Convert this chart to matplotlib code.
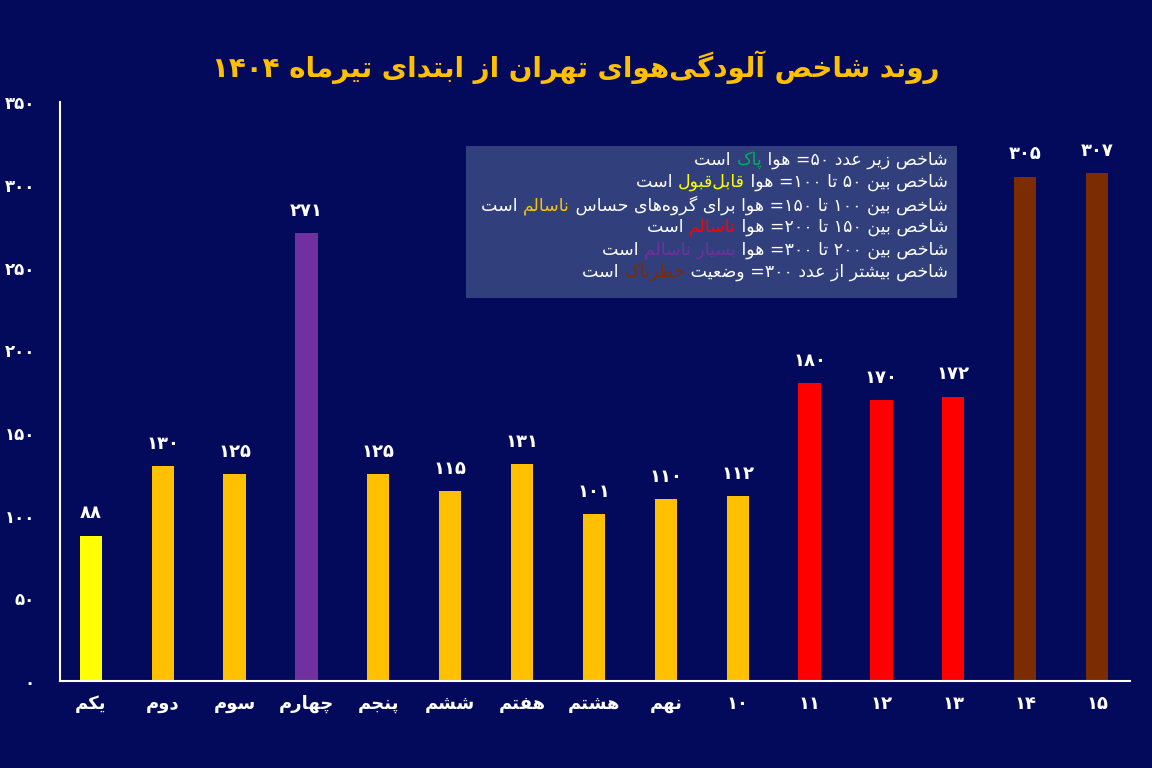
import re
import matplotlib
matplotlib.use("Agg")
import matplotlib.pyplot as plt
from matplotlib.text import Annotation

categories = ["یکم", "دوم", "سوم", "چهارم", "پنجم", "ششم", "هفتم", "هشتم", "نهم",
              "۱۰", "۱۱", "۱۲", "۱۳", "۱۴", "۱۵"]
values = [88, 130, 125, 271, 125, 115, 131, 101, 110, 112, 180, 170, 172, 305, 307]
value_labels = ["۸۸", "۱۳۰", "۱۲۵", "۲۷۱", "۱۲۵", "۱۱۵", "۱۳۱", "۱۰۱", "۱۱۰", "۱۱۲",
                "۱۸۰", "۱۷۰", "۱۷۲", "۳۰۵", "۳۰۷"]
bar_colors = ["#FFFF00", "#FFC000", "#FFC000", "#7030A0", "#FFC000", "#FFC000", "#FFC000",
              "#FFC000", "#FFC000", "#FFC000", "#FF0000", "#FF0000", "#FF0000",
              "#7B2C00", "#7B2C00"]
yticks = [0, 50, 100, 150, 200, 250, 300, 350]
ytick_labels = ["۰", "۵۰", "۱۰۰", "۱۵۰", "۲۰۰", "۲۵۰", "۳۰۰", "۳۵۰"]
title = "روند شاخص آلودگی‌هوای تهران از ابتدای تیرماه ۱۴۰۴"
legend_lines = [
    [("شاخص زیر عدد ۵۰= هوا ", "white"), ("پاک", "#00B050"), (" است", "white")],
    [("شاخص بین ۵۰ تا ۱۰۰= هوا ", "white"), ("قابل‌قبول", "#FFFF00"), (" است", "white")],
    [("شاخص بین ۱۰۰ تا ۱۵۰= هوا برای گروه‌های حساس ", "white"), ("ناسالم", "#FFC000"), (" است", "white")],
    [("شاخص بین ۱۵۰ تا ۲۰۰= هوا ", "white"), ("ناسالم", "#FF0000"), (" است", "white")],
    [("شاخص بین ۲۰۰ تا ۳۰۰= هوا ", "white"), ("بسیار ناسالم", "#7030A0"), (" است", "white")],
    [("شاخص بیشتر از عدد ۳۰۰= وضعیت ", "white"), ("خطرناک", "#7B2C00"), (" است", "white")],
]

F = {
 'ا': (0xFE8D, 0xFE8E, None, None), 'آ': (0xFE81, 0xFE82, None, None),
 'ب': (0xFE8F, 0xFE90, 0xFE91, 0xFE92), 'پ': (0xFB56, 0xFB57, 0xFB58, 0xFB59),
 'ت': (0xFE95, 0xFE96, 0xFE97, 0xFE98), 'ث': (0xFE99, 0xFE9A, 0xFE9B, 0xFE9C),
 'ج': (0xFE9D, 0xFE9E, 0xFE9F, 0xFEA0), 'چ': (0xFB7A, 0xFB7B, 0xFB7C, 0xFB7D),
 'ح': (0xFEA1, 0xFEA2, 0xFEA3, 0xFEA4), 'خ': (0xFEA5, 0xFEA6, 0xFEA7, 0xFEA8),
 'د': (0xFEA9, 0xFEAA, None, None), 'ذ': (0xFEAB, 0xFEAC, None, None),
 'ر': (0xFEAD, 0xFEAE, None, None), 'ز': (0xFEAF, 0xFEB0, None, None),
 'ژ': (0xFB8A, 0xFB8B, None, None),
 'س': (0xFEB1, 0xFEB2, 0xFEB3, 0xFEB4), 'ش': (0xFEB5, 0xFEB6, 0xFEB7, 0xFEB8),
 'ص': (0xFEB9, 0xFEBA, 0xFEBB, 0xFEBC), 'ض': (0xFEBD, 0xFEBE, 0xFEBF, 0xFEC0),
 'ط': (0xFEC1, 0xFEC2, 0xFEC3, 0xFEC4), 'ظ': (0xFEC5, 0xFEC6, 0xFEC7, 0xFEC8),
 'ع': (0xFEC9, 0xFECA, 0xFECB, 0xFECC), 'غ': (0xFECD, 0xFECE, 0xFECF, 0xFED0),
 'ف': (0xFED1, 0xFED2, 0xFED3, 0xFED4), 'ق': (0xFED5, 0xFED6, 0xFED7, 0xFED8),
 'ک': (0xFB8E, 0xFB8F, 0xFB90, 0xFB91), 'گ': (0xFB92, 0xFB93, 0xFB94, 0xFB95),
 'ل': (0xFEDD, 0xFEDE, 0xFEDF, 0xFEE0), 'م': (0xFEE1, 0xFEE2, 0xFEE3, 0xFEE4),
 'ن': (0xFEE5, 0xFEE6, 0xFEE7, 0xFEE8), 'ه': (0xFEE9, 0xFEEA, 0xFEEB, 0xFEEC),
 'و': (0xFEED, 0xFEEE, None, None), 'ی': (0xFBFC, 0xFBFD, 0xFBFE, 0xFBFF),
}


def shape(s):
    out = []
    n = len(s)
    for i, c in enumerate(s):
        if c == '\u200c':
            continue
        if c not in F:
            out.append(c)
            continue
        p = s[i - 1] if i > 0 else ''
        q = s[i + 1] if i < n - 1 else ''
        pj = p in F and F[p][2] is not None
        nj = q in F and F[c][2] is not None
        iso, fin, ini, med = F[c]
        if pj and nj:
            g = med
        elif pj:
            g = fin
        elif nj:
            g = ini
        else:
            g = iso
        out.append(chr(g))
    rev = ''.join(out)[::-1]
    return re.sub('[۰-۹0-9]+', lambda m: m.group()[::-1], rev)


BG = "#030A5C"
plt.rcParams["font.family"] = "DejaVu Sans"
fig = plt.figure(figsize=(11.52, 7.68), dpi=100, facecolor=BG)
ax = fig.add_axes([0.052, 0.113, 0.929, 0.754], facecolor=BG)

x = list(range(len(values)))
ax.bar(x, values, width=0.31, color=bar_colors, zorder=2)
for xi, v, lab in zip(x, values, value_labels):
    ax.text(xi, v + 8, shape(lab), ha="center", va="bottom", color="white",
            fontsize=13, fontweight="bold")

ax.set_xlim(-0.43, 14.46)
ax.set_ylim(0, 350)
ax.set_yticks(yticks)
ax.set_yticklabels([shape(t) for t in ytick_labels], color="white", fontsize=12,
                   fontweight="bold")
ax.set_xticks(x)
ax.set_xticklabels([shape(c) for c in categories], color="white", fontsize=13,
                   fontweight="bold")
ax.tick_params(length=0, pad=10)
ax.tick_params(axis="y", pad=18)
for sp in ["top", "right"]:
    ax.spines[sp].set_visible(False)
for sp in ["left", "bottom"]:
    ax.spines[sp].set_color("white")
    ax.spines[sp].set_linewidth(1.5)

fig.text(0.5, 0.912, shape(title), ha="center", va="center", color="#FFC000",
         fontsize=20, fontweight="bold")

box = plt.Rectangle((466 / 1152, 1 - 298 / 768), (957 - 466) / 1152, (298 - 146) / 768,
                    transform=fig.transFigure, facecolor="#34447F", alpha=0.95,
                    edgecolor="none", zorder=3)
fig.patches.append(box)
xr = 948 / 1152
for k, line in enumerate(legend_lines):
    yc = 1 - (160 + k * 22.4) / 768
    prev = None
    for seg, col in line:
        txt = shape(seg)
        if prev is None:
            prev = fig.text(xr, yc, txt, ha="right", va="center", color=col,
                            fontsize=12.5, zorder=5)
        else:
            a = Annotation(txt, xy=(0, 0), xycoords=prev, ha="right", va="bottom",
                           color=col, fontsize=12.5, zorder=5, annotation_clip=False)
            fig.add_artist(a)
            prev = a

fig.savefig("out.png", dpi=100, facecolor=BG)
